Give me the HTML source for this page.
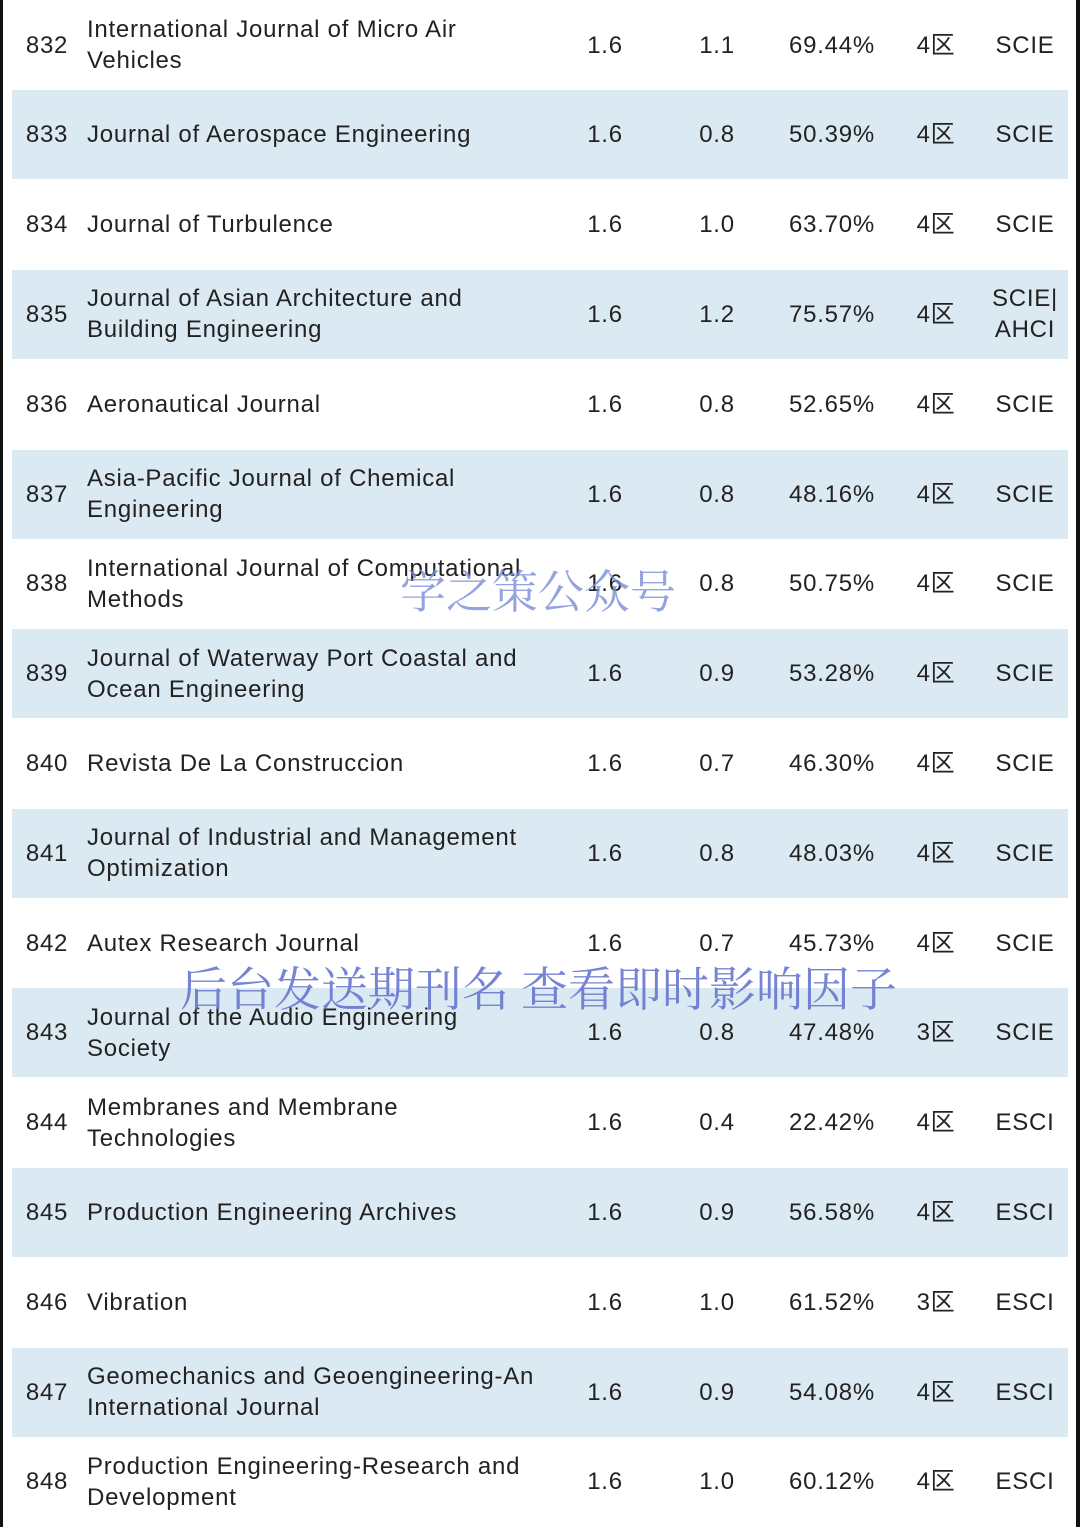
<!DOCTYPE html>
<html><head><meta charset="utf-8"><style>
html,body{margin:0;padding:0;background:#fff;}
#wrap{position:relative;width:1080px;height:1527px;overflow:hidden;background:#fff;font-family:"Liberation Sans","Noto Sans CJK SC",sans-serif;color:#222;font-size:24px;letter-spacing:0.75px;}
.edgeL{position:absolute;left:0;top:0;width:3px;height:1527px;background:#111;}
.edgeR{position:absolute;left:1076px;top:0;width:4px;height:1527px;background:#111;}
.row{position:absolute;left:12px;width:1056px;height:89px;}
.row.sh{background:#dbeaf2;}
.c{position:absolute;top:0;height:89px;display:flex;align-items:center;line-height:31px;}
.num{left:0;width:70px;justify-content:center;}
.name{left:75px;width:470px;}
.v{justify-content:center;text-align:center;}
.wm{position:absolute;font-family:"Noto Serif CJK SC",serif;white-space:nowrap;letter-spacing:0;}
</style></head><body>
<div id="wrap">
<div class="edgeL"></div>
<div class="edgeR"></div>
<div id="rows"></div>
<div class="wm" style="left:400px;top:556px;font-size:46px;color:rgba(120,140,215,0.8);">学之策公众号</div>
<div class="wm" style="left:180px;top:953px;font-size:47px;color:rgba(95,110,205,0.85);">后台发送期刊名 查看即时影响因子</div>
</div>
<script>
const nums=[832,833,834,835,836,837,838,839,840,841,842,843,844,845,846,847,848];
const names=["International Journal of Micro Air<br>Vehicles","Journal of Aerospace Engineering","Journal of Turbulence","Journal of Asian Architecture and<br>Building Engineering","Aeronautical Journal","Asia-Pacific Journal of Chemical<br>Engineering","International Journal of Computational<br>Methods","Journal of Waterway Port Coastal and<br>Ocean Engineering","Revista De La Construccion","Journal of Industrial and Management<br>Optimization","Autex Research Journal","Journal of the Audio Engineering<br>Society","Membranes and Membrane<br>Technologies","Production Engineering Archives","Vibration","Geomechanics and Geoengineering-An<br>International Journal","Production Engineering-Research and<br>Development"];
const ifs=["1.6","1.6","1.6","1.6","1.6","1.6","1.6","1.6","1.6","1.6","1.6","1.6","1.6","1.6","1.6","1.6","1.6"];
const v2=["1.1","0.8","1.0","1.2","0.8","0.8","0.8","0.9","0.7","0.8","0.7","0.8","0.4","0.9","1.0","0.9","1.0"];
const pct=["69.44%","50.39%","63.70%","75.57%","52.65%","48.16%","50.75%","53.28%","46.30%","48.03%","45.73%","47.48%","22.42%","56.58%","61.52%","54.08%","60.12%"];
const zone=["4区","4区","4区","4区","4区","4区","4区","4区","4区","4区","4区","3区","4区","4区","3区","4区","4区"];
const idx=["SCIE","SCIE","SCIE","SCIE|<br>AHCI","SCIE","SCIE","SCIE","SCIE","SCIE","SCIE","SCIE","SCIE","ESCI","ESCI","ESCI","ESCI","ESCI"];
const cols=[[ifs,593],[v2,705],[pct,820],[zone,924],[idx,1013]];
const host=document.getElementById('rows');
const pitch=89.8;
nums.forEach((n,i)=>{
  const r=document.createElement('div');
  r.className='row'+(i%2?' sh':'');
  r.style.top=(i*pitch+0.5)+'px';
  
  
  let h='<div class="c num">'+n+'</div>';
  h+='<div class="c name"><span>'+names[i]+'</span></div>';
  cols.forEach(([arr,cx],k)=>{
    h+='<div class="c v" style="left:'+(cx-60)+'px;width:120px;"><span>'+arr[i]+'</span></div>';
  });
  r.innerHTML=h;
  host.appendChild(r);
});
</script>
</body></html>
